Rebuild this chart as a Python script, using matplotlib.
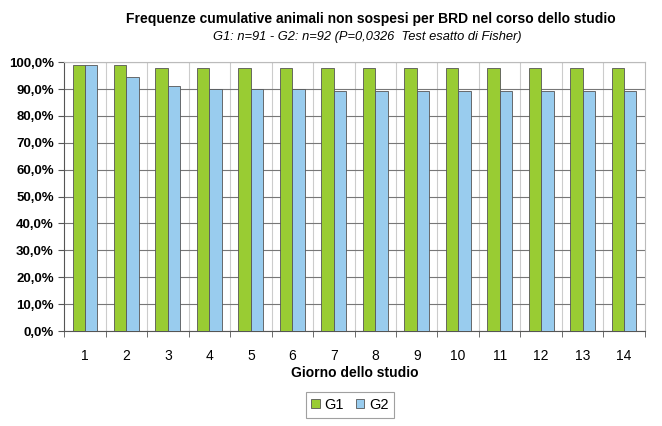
import numpy as np
import matplotlib
matplotlib.use('Agg')
import matplotlib.pyplot as plt
from matplotlib.ticker import FuncFormatter

plt.rcParams['font.family'] = ['Liberation Sans', 'DejaVu Sans']

# data
giorni = [str(i) for i in range(1, 15)]
g1 = [98.9, 98.9, 97.8, 97.8, 97.8, 97.8, 97.8, 97.8, 97.8, 97.8, 97.8, 97.8, 97.8, 97.8]
g2 = [98.9, 94.6, 91.3, 90.2, 90.2, 90.2, 89.1, 89.1, 89.1, 89.1, 89.1, 89.1, 89.1, 89.1]
serie = ['G1', 'G2']

fig = plt.figure(figsize=(6.62, 4.26), dpi=100)
ax = fig.add_axes([0.097, 0.223, 0.877, 0.631])

x = np.arange(len(giorni))
w = 0.3
ax.bar(x - w/2, g1, width=w, color='#99cc33', edgecolor='#555555', linewidth=0.6, label=serie[0], zorder=3)
ax.bar(x + w/2, g2, width=w, color='#99ccee', edgecolor='#555555', linewidth=0.6, label=serie[1], zorder=3)

ax.set_xlim(-0.5, len(giorni) - 0.5)
ax.set_ylim(0, 100)
ax.set_yticks(np.arange(0, 101, 10))
ax.yaxis.set_major_formatter(FuncFormatter(lambda v, p: f"{v:.1f}%".replace('.', ',')))
for lab in ax.get_yticklabels():
    lab.set_fontweight('bold')
ax.tick_params(axis='y', labelsize=9.5, length=4, color='#555555')

# x: labels at centres, ticks at boundaries
ax.set_xticks(x)
ax.set_xticklabels(giorni, fontsize=10)
ax.tick_params(axis='x', length=0, pad=13)
ax.set_xticks(np.arange(-0.5, len(giorni)), minor=True)
ax.tick_params(axis='x', which='minor', length=4, color='#555555')

ax.yaxis.grid(True, color='#777777', linewidth=0.8, zorder=0)
for b in np.arange(0.5, len(giorni) - 0.5):
    ax.axvline(b, color='#cccccc', linewidth=0.8, zorder=0)
ax.set_axisbelow(True)

for s in ['top', 'right']:
    ax.spines[s].set_color('#bbbbbb')
for s in ['left', 'bottom']:
    ax.spines[s].set_color('#555555')

ax.set_xlabel('Giorno dello studio', fontsize=10, fontweight='bold', labelpad=2)

fig.text(0.56, 0.955, 'Frequenze cumulative animali non sospesi per BRD nel corso dello studio',
         ha='center', va='center', fontsize=10, fontweight='bold')
fig.text(0.555, 0.912, 'G1: n=91 - G2: n=92 (P=0,0326  Test esatto di Fisher)',
         ha='center', va='center', fontsize=9.3, style='italic')

leg = ax.legend(loc='center', bbox_to_anchor=(0.492, -0.275), ncol=2, fontsize=10.5,
                frameon=True, fancybox=False, edgecolor='#888888',
                handlelength=0.6, handleheight=0.6, handletextpad=0.3, columnspacing=0.8,
                borderpad=0.4)
leg.get_frame().set_linewidth(0.8)

fig.savefig('out.png', dpi=100)
